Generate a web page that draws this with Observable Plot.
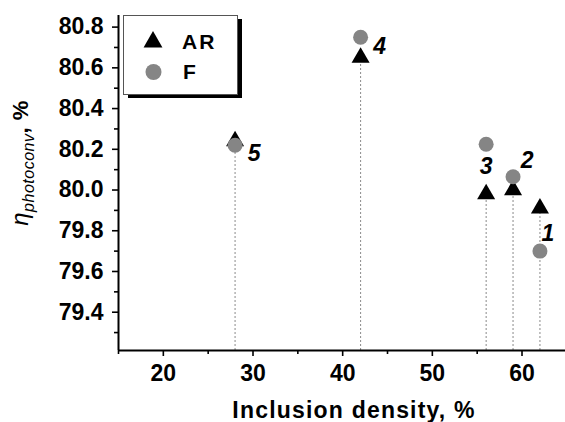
<!DOCTYPE html>
<html><head><meta charset="utf-8">
<script src="https://cdn.jsdelivr.net/npm/d3@7"></script>
<script src="https://cdn.jsdelivr.net/npm/@observablehq/plot@0.6"></script>
<style>body{margin:0;background:#fff} #chart{position:relative;width:565px;height:422px}</style>
</head><body><div id="chart"></div>
<script>
// ---- data ----
const samples = ["1", "2", "3", "4", "5"];
const density = [62, 59, 56, 42, 28];
const etaAR = [79.91, 80.0, 79.98, 80.65, 80.24];
const etaF = [79.70, 80.065, 80.225, 80.75, 80.22];
const seriesNames = ["AR", "F"];
const xMajor = [20, 30, 40, 50, 60];
const xMinor = [15, 25, 35, 45, 55];
const yMajor = [79.4, 79.6, 79.8, 80.0, 80.2, 80.4, 80.6, 80.8];
const yMinor = [79.3, 79.5, 79.7, 79.9, 80.1, 80.3, 80.5, 80.7];
const xTitle = "Inclusion density, %";

// ---- layout/style ----
const labelOffsets = [[8, -17], [14, -16], [0, 22], [19, 9], [19, 8]];
const xDomain = [15, 64.85];
const yDomain = [79.212, 80.857];
const FONT = "Liberation Sans, Arial, sans-serif";
const grayF = "#858585";

const rows = samples.map((s, i) => ({s, x: density[i], ar: etaAR[i], f: etaF[i]}));

const labelMarks = rows.map((r, i) => Plot.text([r], {
  x: "x", y: "f", text: "s", dx: labelOffsets[i][0], dy: labelOffsets[i][1],
  fontSize: 23, fontWeight: "bold", fontStyle: "italic", fill: "black"
}));

const chart = Plot.plot({
  width: 565, height: 422,
  marginLeft: 118, marginRight: 0, marginTop: 15, marginBottom: 72,
  style: {fontFamily: FONT, fontSize: "23px", fontWeight: "bold", color: "black", background: "white"},
  x: {domain: xDomain},
  y: {domain: yDomain},
  marks: [
    Plot.ruleX(rows, {x: "x", y1: () => yDomain[0], y2: "ar", stroke: "#8a8a8a", strokeWidth: 1, strokeDasharray: "2,2"}),
    Plot.axisX(xMajor, {anchor: "bottom", tickSize: 6, tickPadding: 8, strokeWidth: 1.6, label: null, fontSize: 23, fontWeight: "bold"}),
    Plot.axisX(xMinor, {anchor: "bottom", tickSize: 4, tickFormat: () => "", strokeWidth: 1.6, label: null}),
    Plot.axisY(yMajor, {anchor: "left", tickSize: 6, tickPadding: 9, strokeWidth: 1.6, label: null, tickFormat: d => d.toFixed(1), fontSize: 23, fontWeight: "bold"}),
    Plot.axisY(yMinor, {anchor: "left", tickSize: 4, tickFormat: () => "", strokeWidth: 1.6, label: null}),
    Plot.ruleX([xDomain[0]], {stroke: "black", strokeWidth: 2}),
    Plot.ruleY([yDomain[0]], {stroke: "black", strokeWidth: 2}),
    Plot.dot(rows, {x: "x", y: "ar", symbol: "triangle", r: 6.7, fill: "black", stroke: "none"}),
    Plot.dot(rows, {x: "x", y: "f", symbol: "circle", r: 7.5, fill: grayF, stroke: "none"}),
    ...labelMarks
  ]
});

document.getElementById("chart").appendChild(chart);

const svg = d3.select(chart);

// x title
svg.append("text").attr("x", 354).attr("y", 418).attr("text-anchor", "middle")
  .attr("font-family", FONT).attr("font-weight", "bold").attr("font-size", 23).attr("fill", "black")
  .style("letter-spacing", "1.2px")
  .text(xTitle);
// y title
const yt = svg.append("text").attr("transform", "translate(28,163) rotate(-90)")
  .attr("text-anchor", "middle").attr("font-family", FONT).attr("fill", "black").style("letter-spacing", "0.5px");
yt.append("tspan").attr("font-style", "italic").style("font-weight", "normal").attr("font-size", 24).text("η");
yt.append("tspan").attr("font-style", "italic").style("font-weight", "normal").attr("font-size", 16).attr("dy", 6).text("photoconv");
yt.append("tspan").style("font-weight", "bold").attr("font-size", 22).attr("dy", -6).text(", %");

// legend
const lg = svg.append("g");
lg.append("rect").attr("x", 128).attr("y", 19).attr("width", 114).attr("height", 79).attr("fill", "black");
lg.append("rect").attr("x", 123.5).attr("y", 15.5).attr("width", 114).attr("height", 79).attr("fill", "white").attr("stroke", "#555").attr("stroke-width", 1);
const sym = d3.symbol().type(d3.symbolTriangle).size(Math.PI * 7 * 7);
lg.append("path").attr("d", sym()).attr("transform", "translate(153,42)").attr("fill", "black");
lg.append("circle").attr("cx", 153.5).attr("cy", 72).attr("r", 8).attr("fill", grayF);
lg.append("text").attr("x", 182).attr("y", 48.5).attr("text-anchor", "start").attr("font-family", FONT).attr("font-weight", "bold").attr("font-size", 21).attr("fill", "black").style("letter-spacing", "2px").text(seriesNames[0]);
lg.append("text").attr("x", 183).attr("y", 78.5).attr("text-anchor", "start").attr("font-family", FONT).attr("font-weight", "bold").attr("font-size", 21).attr("fill", "black").text(seriesNames[1]);
</script>
</body></html>
